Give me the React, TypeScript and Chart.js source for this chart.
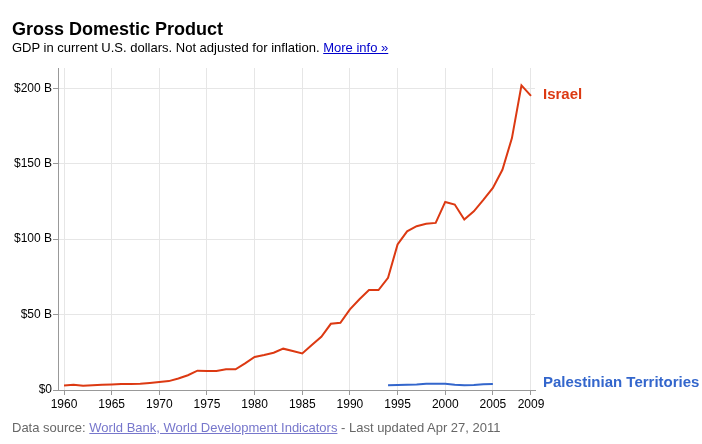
import React, { useEffect, useRef } from "react";
import { Chart, registerables } from "chart.js";

Chart.register(...registerables);

const years = [
  1960, 1961, 1962, 1963, 1964, 1965, 1966, 1967, 1968, 1969,
  1970, 1971, 1972, 1973, 1974, 1975, 1976, 1977, 1978, 1979,
  1980, 1981, 1982, 1983, 1984, 1985, 1986, 1987, 1988, 1989,
  1990, 1991, 1992, 1993, 1994, 1995, 1996, 1997, 1998, 1999,
  2000, 2001, 2002, 2003, 2004, 2005, 2006, 2007, 2008, 2009,
];
const israelGdp = [
  3.0, 3.5, 2.8, 3.1, 3.4, 3.7, 3.9, 4.0, 4.2, 4.7,
  5.3, 5.9, 7.6, 9.8, 12.8, 12.6, 12.6, 13.7, 13.7, 17.7,
  21.9, 23.2, 24.7, 27.4, 25.8, 24.2, 29.8, 35.3, 43.9, 44.6,
  53.5, 60.2, 66.3, 66.3, 74.4, 96.5, 105.2, 108.6, 110.2, 110.8,
  124.7, 123.0, 113.0, 118.5, 126.0, 134.0, 146.0, 167.0, 202.0, 195.0,
];
const palestineYears = [1994, 1995, 1996, 1997, 1998, 1999, 2000, 2001, 2002, 2003, 2004, 2005];
const palestineGdp = [3.1, 3.3, 3.5, 3.7, 4.1, 4.2, 4.2, 3.5, 3.1, 3.3, 3.8, 4.0];
const xTicks = [1960, 1965, 1970, 1975, 1980, 1985, 1990, 1995, 2000, 2005, 2009];
const yTicks = [0, 50, 100, 150, 200];
const seriesNames = ["Israel", "Palestinian Territories"];
const seriesColors = ["#dc3912", "#3366cc"];

const FONT = "'Liberation Sans', Arial, sans-serif";

const endLabels = {
  id: "endLabels",
  afterDatasetsDraw(chart: any) {
    const ctx = chart.ctx;
    ctx.save();
    ctx.font = `bold 15px ${FONT}`;
    ctx.textAlign = "left";
    ctx.textBaseline = "middle";
    chart.data.datasets.forEach((ds: any, i: number) => {
      const meta = chart.getDatasetMeta(i);
      const pt = meta.data[meta.data.length - 1];
      ctx.fillStyle = ds.borderColor;
      ctx.fillText(ds.label, chart.chartArea.right + 8, pt.y - 1.5);
    });
    ctx.restore();
  },
};

export default function App() {
  const ref = useRef<HTMLCanvasElement>(null);
  useEffect(() => {
    const chart = new Chart(ref.current!, {
      type: "line",
      data: {
        datasets: [
          {
            label: seriesNames[0],
            data: years.map((y, i) => ({ x: y, y: israelGdp[i] })),
            borderColor: seriesColors[0],
            backgroundColor: seriesColors[0],
            borderWidth: 2,
            pointRadius: 0,
            tension: 0,
          },
          {
            label: seriesNames[1],
            data: palestineYears.map((y, i) => ({ x: y, y: palestineGdp[i] })),
            borderColor: seriesColors[1],
            backgroundColor: seriesColors[1],
            borderWidth: 2,
            pointRadius: 0,
            tension: 0,
          },
        ],
      },
      options: {
        animation: false,
        responsive: false,
        devicePixelRatio: 1,
        layout: { padding: { top: 68, right: 167, left: 0, bottom: 0 } },
        plugins: { legend: { display: false }, tooltip: { enabled: false } },
        scales: {
          x: {
            type: "linear",
            min: 1959.37,
            max: 2009.42,
            afterBuildTicks: (s: any) => {
              s.ticks = xTicks.map((v) => ({ value: v }));
            },
            afterFit: (s: any) => {
              s.height = 54;
            },
            grid: { color: "#e6e6e6", tickColor: "#999999", tickLength: 5 },
            border: { color: "#999999", width: 1 },
            ticks: {
              autoSkip: false,
              maxRotation: 0,
              padding: 2,
              color: "#000000",
              font: { family: FONT, size: 12 },
              callback: (v: any) => String(v),
            },
          },
          y: {
            type: "linear",
            min: 0,
            max: 213.5,
            afterBuildTicks: (s: any) => {
              s.ticks = yTicks.map((v) => ({ value: v }));
            },
            afterFit: (s: any) => {
              s.width = 58;
            },
            grid: { color: "#e6e6e6", tickColor: "#999999", tickLength: 5 },
            border: { color: "#999999", width: 1 },
            ticks: {
              padding: 1,
              color: "#000000",
              font: { family: FONT, size: 12 },
              callback: (v: any) => (v === 0 ? "$0" : `$${v} B`),
            },
          },
        },
      },
      plugins: [endLabels],
    } as any);
    return () => chart.destroy();
  }, []);

  return (
    <div style={{ position: "absolute", left: 0, top: 0, width: 702, height: 444, background: "#fff", fontFamily: FONT }}>
      <canvas ref={ref} width={702} height={444} style={{ position: "absolute", left: 0, top: 0, width: 702, height: 444 }} />
      <div style={{ position: "absolute", left: 12, top: 20, fontSize: 18, lineHeight: "18px", fontWeight: "bold", color: "#000", whiteSpace: "nowrap" }}>
        Gross Domestic Product
      </div>
      <div style={{ position: "absolute", left: 12, top: 41, fontSize: 13, lineHeight: "13px", color: "#000", whiteSpace: "nowrap" }}>
        GDP in current U.S. dollars. Not adjusted for inflation.{" "}
        <span style={{ color: "#0000cc", textDecoration: "underline" }}>More info »</span>
      </div>
      <div style={{ position: "absolute", left: 12, top: 421, fontSize: 13, lineHeight: "13px", color: "#676767", whiteSpace: "nowrap" }}>
        Data source: <span style={{ color: "#7777cc", textDecoration: "underline" }}>World Bank, World Development Indicators</span> - Last updated Apr 27, 2011
      </div>
    </div>
  );
}
